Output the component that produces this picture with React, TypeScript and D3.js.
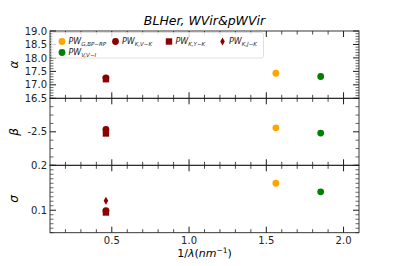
import React from "react";
import * as d3 from "d3";

// values
const seriesNames = ["G,BP−RP", "V,V−I", "K,V−K", "K,Y−K", "K,J−K"];
const invLambda = [1.562, 1.852, 0.462, 0.462, 0.462];
const alphaVals = [17.43, 17.31, 17.26, 17.21, 17.24];
const betaVals = [-2.452, -2.515, -2.47, -2.52, -2.49];
const sigmaVals = [0.16, 0.141, 0.099, 0.095, 0.121];

const xTicks = [0.5, 1.0, 1.5, 2.0];
const alphaTicks = [16.5, 17.0, 17.5, 18.0, 18.5, 19.0];
const betaTicks = [-2.5];
const sigmaTicks = [0.1, 0.2];

// marker style per series
const seriesStyle = [
  { color: "#FFA500", shape: "circle" },
  { color: "#008000", shape: "circle" },
  { color: "#8B0000", shape: "circle" },
  { color: "#8B0000", shape: "square" },
  { color: "#8B0000", shape: "diamond" },
];
// legend column-major order like matplotlib ncol=4
const legendSlots = [
  [0, 0],
  [0, 1],
  [1, 0],
  [2, 0],
  [3, 0],
];

const W = 399;
const H = 266;
const left = 50;
const right = 359;
const tops = [31, 98.3, 165.3];
const bottom = 232.7;
const font = "DejaVu Sans, sans-serif";
const fmt = (v) => v.toFixed(1);

const panels = [
  { label: "α", values: alphaVals, domain: [16.5, 19.0], ticks: alphaTicks, minor: 0.1 },
  { label: "β", values: betaVals, domain: [-2.9, -2.1], ticks: betaTicks, minor: 0.1 },
  { label: "σ", values: sigmaVals, domain: [0.05, 0.2], ticks: sigmaTicks, minor: 0.01 },
];

function Marker({ x, y, shape, color }) {
  if (shape === "square") return <rect x={x - 3.2} y={y - 3.2} width={6.4} height={6.4} fill={color} />;
  if (shape === "diamond")
    return <path d={`M${x},${y - 4}L${x + 2.3},${y}L${x},${y + 4}L${x - 2.3},${y}Z`} fill={color} />;
  return <circle cx={x} cy={y} r={3.4} fill={color} />;
}

function range(a, b, step) {
  const out = [];
  const n = Math.round((b - a) / step);
  for (let i = 0; i <= n; i++) out.push(+(a + i * step).toFixed(4));
  return out;
}

export default function App() {
  const x = d3.scaleLinear().domain([0.1, 2.1]).range([left, right]);
  const xMinor = range(0.2, 2.0, 0.1).filter((v) => !xTicks.some((t) => Math.abs(t - v) < 1e-6));

  return (
    <svg width={W} height={H} style={{ position: "absolute", left: 0, top: 0 }} fontFamily={font}>
      <rect width={W} height={H} fill="white" />
      <text x={(left + right) / 2} y={25} textAnchor="middle" fontSize={12.5} fontStyle="italic">
        BLHer, WVir&amp;pWVir
      </text>
      {panels.map((p, i) => {
        const y0 = tops[i];
        const y1 = i < 2 ? tops[i + 1] : bottom;
        const y = d3.scaleLinear().domain(p.domain).range([y1, y0]);
        const yMinor = range(p.domain[0], p.domain[1], p.minor).filter(
          (v) => !p.ticks.some((t) => Math.abs(t - v) < 1e-6)
        );
        return (
          <g key={i}>
            {xTicks.map((t) => (
              <g key={"xM" + t} stroke="black" strokeWidth={0.9}>
                <line x1={x(t)} x2={x(t)} y1={y1} y2={y1 - 6} />
                <line x1={x(t)} x2={x(t)} y1={y0} y2={y0 + 6} />
              </g>
            ))}
            {xMinor.map((t) => (
              <g key={"xm" + t} stroke="black" strokeWidth={0.7}>
                <line x1={x(t)} x2={x(t)} y1={y1} y2={y1 - 3.5} />
                <line x1={x(t)} x2={x(t)} y1={y0} y2={y0 + 3.5} />
              </g>
            ))}
            {p.ticks.map((t) => (
              <g key={"yM" + t}>
                <line x1={left} x2={left + 6} y1={y(t)} y2={y(t)} stroke="black" strokeWidth={0.9} />
                <line x1={right} x2={right - 6} y1={y(t)} y2={y(t)} stroke="black" strokeWidth={0.9} />
                <text x={left - 3} y={y(t)} dy="0.36em" textAnchor="end" fontSize={10} fill="#222">
                  {fmt(t)}
                </text>
              </g>
            ))}
            {yMinor.map((t) => (
              <g key={"ym" + t} stroke="black" strokeWidth={0.6}>
                <line x1={left} x2={left + 3.5} y1={y(t)} y2={y(t)} />
                <line x1={right} x2={right - 3.5} y1={y(t)} y2={y(t)} />
              </g>
            ))}
            {p.values.map((v, k) => (
              <Marker key={k} x={x(invLambda[k])} y={y(v)} shape={seriesStyle[k].shape} color={seriesStyle[k].color} />
            ))}
            <text
              transform={`translate(18,${(y0 + y1) / 2}) rotate(-90)`}
              textAnchor="middle"
              fontSize={12}
              fontStyle="italic"
            >
              {p.label}
            </text>
            <rect x={left} y={y0} width={right - left} height={y1 - y0} fill="none" stroke="#222" strokeWidth={0.9} />
          </g>
        );
      })}
      {xTicks.map((t) => (
        <text key={t} x={x(t)} y={244} textAnchor="middle" fontSize={10} fill="#222">
          {fmt(t)}
        </text>
      ))}
      <text x={(left + right) / 2} y={257} textAnchor="middle" fontSize={11}>
        1/<tspan fontStyle="italic">λ</tspan>(<tspan fontStyle="italic">nm</tspan>
        <tspan fontSize={7.5} dy={-4.5}>−1</tspan>
        <tspan dy={4.5}>)</tspan>
      </text>
      <rect x={51.5} y={32.5} width={212} height={25.5} rx={2} fill="white" fillOpacity={0.8} stroke="#d8d8d8" strokeWidth={0.8} />
      {seriesNames.map((name, k) => {
        const [c, r] = legendSlots[k];
        const mx = 62 + c * 53.5;
        const my = 41.5 + r * 11;
        return (
          <g key={name}>
            <Marker x={mx} y={my} shape={seriesStyle[k].shape} color={seriesStyle[k].color} />
            <text x={mx + 6.5} y={my + 2.5} fontSize={8} fontStyle="italic" fill="#222">
              PW
              <tspan fontSize={5.5} dy={2}>
                {name}
              </tspan>
            </text>
          </g>
        );
      })}
    </svg>
  );
}
